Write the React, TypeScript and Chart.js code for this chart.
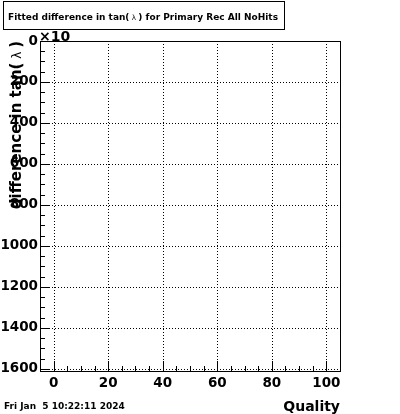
import React, { useEffect, useRef } from "react";
import { Chart, registerables } from "chart.js";

Chart.register(...registerables);

const titleParts = ["Fitted difference in tan(", " \u03bb ", ") for Primary Rec All NoHits"];
const yTitleParts = ["difference in tan(", " \u03bb ", ")"];
const xTitle = "Quality";
const dateText = "Fri Jan  5 10:22:11 2024";
const xTickValues = [0, 20, 40, 60, 80, 100];
const yTickValues = [0, 200, 400, 600, 800, 1000, 1200, 1400, 1600];
const xMinorStep = 5;
const yMinorStep = 50;
const xRange = [-5, 105];
const yRange = [0, 1610];
const histValues: { x: number; y: number }[] = [];

const FONT = "'DejaVu Sans', sans-serif";

function drawParts(ctx: CanvasRenderingContext2D, parts: string[], x: number, y: number, size: number, align: "left" | "right") {
  const fonts = [`bold ${size}px ${FONT}`, `${size * 0.8}px ${FONT}`, `bold ${size}px ${FONT}`];
  const widths = parts.map((p, i) => {
    ctx.font = fonts[i];
    return ctx.measureText(p).width;
  });
  const total = widths.reduce((a, b) => a + b, 0);
  let cx = align === "left" ? x : x - total;
  ctx.textAlign = "left";
  parts.forEach((p, i) => {
    ctx.font = fonts[i];
    ctx.fillText(p, cx, y);
    cx += widths[i];
  });
}

const framePlugin = {
  id: "rootFrame",
  afterDraw(chart: any) {
    const ctx = chart.ctx as CanvasRenderingContext2D;
    const { left, right, top, bottom } = chart.chartArea;
    const xs = chart.scales.x;
    const ys = chart.scales.y;
    ctx.save();
    ctx.strokeStyle = "#000";
    ctx.lineWidth = 1;
    ctx.setLineDash([1, 2]);
    ctx.beginPath();
    for (const v of xTickValues) {
      const px = Math.round(xs.getPixelForValue(v)) + 0.5;
      ctx.moveTo(px, top);
      ctx.lineTo(px, bottom);
    }
    for (const v of yTickValues) {
      const py = Math.round(ys.getPixelForValue(v)) + 0.5;
      ctx.moveTo(left, py);
      ctx.lineTo(right, py);
    }
    ctx.stroke();
    ctx.setLineDash([]);
    ctx.beginPath();
    for (let v = xRange[0]; v <= xRange[1] + 1e-9; v += xMinorStep) {
      const px = Math.round(xs.getPixelForValue(v)) + 0.5;
      const major = xTickValues.includes(v);
      ctx.moveTo(px, bottom);
      ctx.lineTo(px, bottom - (major ? 10 : 5));
    }
    for (let v = yRange[0]; v <= yRange[1] + 1e-9; v += yMinorStep) {
      const py = Math.round(ys.getPixelForValue(v)) + 0.5;
      const major = yTickValues.includes(v);
      ctx.moveTo(left, py);
      ctx.lineTo(left + (major ? 10 : 5), py);
    }
    ctx.stroke();
    ctx.strokeRect(Math.round(left) + 0.5, Math.round(top) + 0.5, Math.round(right - left), Math.round(bottom - top));

    ctx.fillStyle = "#000";
    ctx.font = `bold 14px ${FONT}`;
    ctx.textAlign = "left";
    ctx.textBaseline = "alphabetic";
    ctx.fillText("\u00d710", left - 1, top);

    ctx.save();
    ctx.translate(21, top);
    ctx.rotate(-Math.PI / 2);
    ctx.textBaseline = "alphabetic";
    drawParts(ctx, yTitleParts, 0, 0, 15, "right");
    ctx.restore();

    ctx.textAlign = "right";
    ctx.font = `bold 14px ${FONT}`;
    ctx.fillText(xTitle, right, 411);

    ctx.textAlign = "left";
    ctx.font = `bold 9px ${FONT}`;
    ctx.fillText(dateText, 4, 409);

    ctx.fillStyle = "#fff";
    ctx.fillRect(3.5, 1.5, 281, 28);
    ctx.strokeRect(3.5, 1.5, 281, 28);
    ctx.fillStyle = "#000";
    drawParts(ctx, titleParts, 8, 20, 9, "left");
    ctx.restore();
  },
};

export default function App() {
  const ref = useRef<HTMLCanvasElement>(null);
  useEffect(() => {
    if (!ref.current) return;
    const chart = new Chart(ref.current, {
      type: "line",
      data: {
        datasets: [
          {
            data: histValues,
            borderColor: "#000",
            pointRadius: 0,
          },
        ],
      },
      options: {
        animation: false,
        responsive: false,
        maintainAspectRatio: false,
        layout: { padding: { top: 41, right: 60, left: 0, bottom: 0 } },
        plugins: { legend: { display: false }, tooltip: { enabled: false }, title: { display: false } },
        scales: {
          x: {
            type: "linear",
            min: xRange[0],
            max: xRange[1],
            grid: { display: false, drawTicks: false },
            border: { display: false },
            ticks: {
              color: "#000",
              font: { family: FONT, weight: "bold", size: 13.5 },
              padding: 4,
              maxRotation: 0,
              autoSkip: false,
              callback: (v: any) => String(v),
            },
            afterBuildTicks: (s: any) => {
              s.ticks = xTickValues.map((v) => ({ value: v }));
            },
            afterFit: (s: any) => {
              s.height = 43;
            },
          },
          y: {
            type: "linear",
            reverse: true,
            min: yRange[0],
            max: yRange[1],
            grid: { display: false, drawTicks: false },
            border: { display: false },
            ticks: {
              color: "#000",
              font: { family: FONT, weight: "bold", size: 13.5 },
              padding: 2,
              autoSkip: false,
              callback: (v: any) => String(v),
            },
            afterBuildTicks: (s: any) => {
              s.ticks = yTickValues.map((v) => ({ value: v }));
            },
            afterFit: (s: any) => {
              s.width = 40;
            },
          },
        },
      },
      plugins: [framePlugin],
    });
    return () => chart.destroy();
  }, []);
  return (
    <div style={{ position: "absolute", left: 0, top: 0, width: 400, height: 414, background: "#fff" }}>
      <canvas ref={ref} width={400} height={414} style={{ width: 400, height: 414 }} />
    </div>
  );
}
